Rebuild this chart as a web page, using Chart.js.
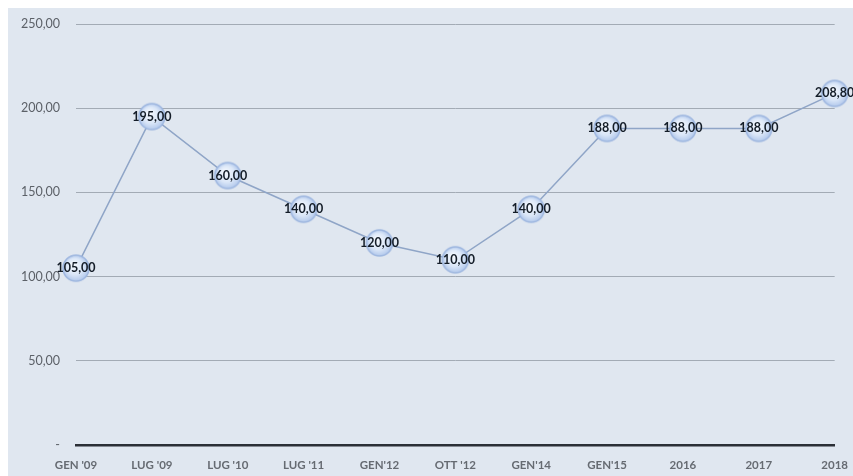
<!DOCTYPE html>
<html>
<head>
<meta charset="utf-8">
<script src="https://cdn.jsdelivr.net/npm/chart.js@4"></script>
<style>
  html, body { margin: 0; padding: 0; background: #ffffff; }
  #wrap { width: 853px; height: 476px; position: relative; }
</style>
</head>
<body>
<div id="wrap"><canvas id="chart" width="853" height="476"></canvas></div>
<script>
// Categories and values
const labels = ["GEN '09", "LUG '09", "LUG '10", "LUG '11", "GEN'12", "OTT '12", "GEN'14", "GEN'15", "2016", "2017", "2018"];
const values = [105, 195, 160, 140, 120, 110, 140, 188, 188, 188, 208.8];

// Italian number format: 195,00
function fmt(v) {
    return v.toFixed(2).replace('.', ',');
}

// Bubble-like marker image used as the point style
function makeMarker() {
    const size = 30;
    const cv = document.createElement('canvas');
    cv.width = size;
    cv.height = size;
    const c = cv.getContext('2d');
    const r = 13;
    const g = c.createRadialGradient(12, 11, 1, 15, 15, r);
    g.addColorStop(0, '#f4f8fe');
    g.addColorStop(0.6, '#dbe7f8');
    g.addColorStop(1, '#b3c9ec');
    c.beginPath();
    c.arc(15, 15, r, 0, Math.PI * 2);
    c.fillStyle = g;
    c.fill();
    c.lineWidth = 1.5;
    c.strokeStyle = '#9db6df';
    c.stroke();
    return cv;
}

// Light panel behind everything, leaving a thin white strip top and left
const panelBg = {
    id: 'panelBg',
    beforeDraw(chart) {
        const c = chart.ctx;
        c.save();
        c.fillStyle = '#e0e7f0';
        c.fillRect(8, 8, chart.width - 8, chart.height - 8);
        c.restore();
    }
};

// Value labels drawn centered on each point
const valueLabels = {
    id: 'valueLabels',
    afterDatasetsDraw(chart) {
        const c = chart.ctx;
        const meta = chart.getDatasetMeta(0);
        c.save();
        c.font = 'bold 12.5px Lato, "Open Sans", sans-serif';
        c.fillStyle = '#141d28';
        c.textAlign = 'center';
        c.textBaseline = 'middle';
        meta.data.forEach((pt, i) => {
            c.fillText(fmt(values[i]), pt.x, pt.y);
        });
        c.restore();
    }
};

new Chart(document.getElementById('chart'), {
    type: 'line',
    data: {
        labels: labels,
        datasets: [{
            data: values,
            borderColor: '#8fa5c7',
            borderWidth: 1.5,
            tension: 0,
            pointStyle: makeMarker(),
            pointRadius: 13,
            pointHoverRadius: 13,
            clip: false
        }]
    },
    options: {
        responsive: false,
        animation: false,
        layout: { padding: { top: 24, right: 18, bottom: 0, left: 0 } },
        plugins: {
            legend: { display: false },
            tooltip: { enabled: false }
        },
        scales: {
            x: {
                offset: false,
                afterFit(scale) { scale.height = 31; },
                grid: { display: false },
                border: { display: true, color: '#2b2f36', width: 2.5 },
                ticks: {
                    color: '#666b72',
                    font: { family: 'Lato, "Open Sans", sans-serif', size: 11.5, weight: 'bold' },
                    padding: 5,
                    maxRotation: 0,
                    autoSkip: false
                }
            },
            y: {
                min: 0,
                max: 250,
                afterFit(scale) { scale.width = 76; },
                grid: {
                    drawTicks: false,
                    color: (ctx) => ctx.tick && ctx.tick.value === 0 ? 'rgba(0,0,0,0)' : '#a3abb5',
                    lineWidth: 1
                },
                border: { display: false },
                ticks: {
                    stepSize: 50,
                    padding: 16,
                    color: '#5c6168',
                    font: { family: 'Lato, "Open Sans", sans-serif', size: 12.5 },
                    callback: (v) => v === 0 ? '-' : fmt(v)
                }
            }
        }
    },
    plugins: [panelBg, valueLabels]
});
</script>
</body>
</html>
